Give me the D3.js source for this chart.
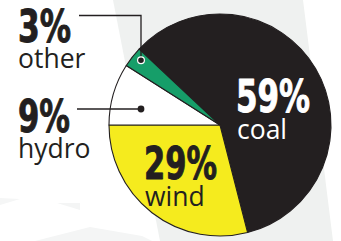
<!DOCTYPE html>
<html>
<head>
<meta charset="utf-8">
<script src="https://cdn.jsdelivr.net/npm/d3@7"></script>
<style>
  html, body { margin: 0; padding: 0; background: #fff; }
  svg { display: block; }
  .pct { font-family: "DejaVu Sans Condensed", "Liberation Sans Narrow", sans-serif; font-weight: bold; font-size: 44px; stroke-width: 0.9px; stroke-linejoin: round; }
  .name { font-family: "Open Sans", "Noto Sans", sans-serif; font-size: 26.5px; }
</style>
</head>
<body>
<div id="chart"></div>
<script>
//Datos del gráfico
const categories = ['coal', 'wind', 'hydro', 'other'];
const values = [59, 29, 9, 3];
const valueLabels = ['59%', '29%', '9%', '3%'];

//Colores
const COLORS = { coal: '#231f20', wind: '#f5eb1e', hydro: '#ffffff', other: '#169e69' };
const TEXT_COLORS = { coal: '#ffffff', wind: '#231f20', hydro: '#231f20', other: '#231f20' };
const DARK = '#231f20';
const BG_GRAY = '#eff1f0';

//Dimensiones
const width = 341, height = 241;
const cx = 220, cy = 125, radius = 111;

//Posición de las etiquetas (dentro: relativas al centro; fuera: con línea guía)
const labelLayout = {
    coal:  { inside: true, dx: 16, dy: -13, pctW: 74 },
    wind:  { inside: true, dx: -76, dy: 54, pctW: 73 },
    hydro: { inside: false, x: 18, y: 132, pctW: 52, lineY: 109, lineX0: 77 },
    other: { inside: false, x: 18, y: 42, pctW: 53, lineY: 15.5, lineX0: 79 }
};

let svg = d3.select('#chart')
    .append('svg')
    .attr('width', width)
    .attr('height', height);

//Fondo con formas grises suaves
svg.append('rect').attr('width', width).attr('height', height).attr('fill', '#fff');

const bgShapes = [
    { pts: [[113,0],[303,0],[333,241],[160,241]], fill: BG_GRAY },
    { pts: [[35,241],[90,227],[142,236],[152,241]], fill: '#f4f5f5' },
    { pts: [[57,203],[80,203],[80,210]], fill: '#f4f5f5' },
    { pts: [[0,198],[20,199],[0,205]], fill: '#f5f6f6' }
];

svg.selectAll('polygon.bg')
    .data(bgShapes)
    .enter()
    .append('polygon')
    .attr('class', 'bg')
    .attr('points', d => d.pts.map(p => p.join(',')).join(' '))
    .attr('fill', d => d.fill);

//Pie: coal + wind terminan en las 9 en punto
const total = d3.sum(values);
const startAngle = 1.5 * Math.PI - 2 * Math.PI * (values[0] + values[1]) / total;

const pie = d3.pie()
    .sort(null)
    .value(d => d.value)
    .startAngle(startAngle)
    .endAngle(startAngle + 2 * Math.PI);

const data = categories.map((c, i) => ({ name: c, value: values[i], label: valueLabels[i] }));
const arcs = pie(data);

const arc = d3.arc().innerRadius(0).outerRadius(radius);

let g = svg.append('g').attr('transform', 'translate(' + cx + ',' + cy + ')');

g.selectAll('path')
    .data(arcs)
    .enter()
    .append('path')
    .attr('d', arc)
    .attr('fill', d => COLORS[d.data.name])
    .attr('stroke', DARK)
    .attr('stroke-width', 1.1)
    .attr('stroke-linejoin', 'round');

//Etiquetas interiores
arcs.filter(d => labelLayout[d.data.name].inside).forEach(function(d) {
    let l = labelLayout[d.data.name];
    g.append('text')
        .attr('class', 'pct')
        .attr('x', l.dx)
        .attr('y', l.dy)
        .attr('textLength', l.pctW)
        .attr('lengthAdjust', 'spacingAndGlyphs')
        .attr('fill', TEXT_COLORS[d.data.name])
        .attr('stroke', TEXT_COLORS[d.data.name])
        .text(d.data.label);
    g.append('text')
        .attr('class', 'name')
        .attr('x', l.dx + 1)
        .attr('y', l.dy + 27)
        .attr('fill', TEXT_COLORS[d.data.name])
        .text(d.data.name);
});

//Etiquetas exteriores con línea guía y punto
const dotX = 141 - cx;
arcs.filter(d => !labelLayout[d.data.name].inside).forEach(function(d) {
    let l = labelLayout[d.data.name];
    let dotY;
    if (d.data.name === 'other') {
        dotY = -Math.sqrt(Math.pow(radius * 0.92, 2) - dotX * dotX);
    } else {
        dotY = l.lineY - cy;
    }
    let path = d.data.name === 'other'
        ? [[l.lineX0 - cx, l.lineY - cy], [dotX, l.lineY - cy], [dotX, dotY]]
        : [[l.lineX0 - cx, l.lineY - cy], [dotX, dotY]];

    g.append('path')
        .attr('d', d3.line()(path))
        .attr('fill', 'none')
        .attr('stroke', DARK)
        .attr('stroke-width', 1.3);

    g.append('circle')
        .attr('cx', dotX)
        .attr('cy', dotY)
        .attr('r', 3.4)
        .attr('fill', DARK)
        .attr('stroke', d.data.name === 'other' ? '#fff' : 'none')
        .attr('stroke-width', 1.2);

    svg.append('text')
        .attr('class', 'pct')
        .attr('x', l.x)
        .attr('y', l.y)
        .attr('textLength', l.pctW)
        .attr('lengthAdjust', 'spacingAndGlyphs')
        .attr('fill', DARK)
        .attr('stroke', DARK)
        .text(d.data.label);
    svg.append('text')
        .attr('class', 'name')
        .attr('x', l.x)
        .attr('y', l.y + 26)
        .attr('fill', DARK)
        .text(d.data.name);
});
</script>
</body>
</html>
